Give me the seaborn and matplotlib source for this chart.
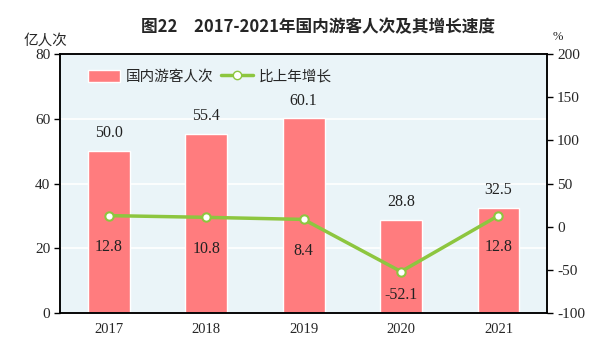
"""
2017-2021年国内游客人次及其增长速度
"""
import numpy as np
import pandas as pd
import matplotlib
matplotlib.use("Agg")
import matplotlib.pyplot as plt
import seaborn as sns
from matplotlib.lines import Line2D
from matplotlib.patches import Patch

sns.set_theme(style="white")
plt.rcParams["font.family"] = ["Noto Sans CJK SC", "DejaVu Sans"]
plt.rcParams["axes.unicode_minus"] = False

# 数据
years = ["2017", "2018", "2019", "2020", "2021"]
visitors = [50.0, 55.4, 60.1, 28.8, 32.5]      # 亿人次
growth = [12.8, 10.8, 8.4, -52.1, 12.8]         # %

BAR_COLOR = "#FF7C7E"
LINE_COLOR = "#8DC63F"
BG_COLOR = "#EAF4F8"
NUM_FONT = ["Liberation Serif", "DejaVu Serif"]

df = pd.DataFrame({"year": years, "visitors": visitors, "growth": growth})

fig = plt.figure(figsize=(6, 3.56), dpi=100)
ax = fig.add_axes([0.1, 0.121, 0.812, 0.727])
ax.set_facecolor(BG_COLOR)

sns.barplot(data=df, x="year", y="visitors", color=BAR_COLOR, saturation=1,
            width=0.43, ax=ax, zorder=2)
ax.set_ylim(0, 80)
ax.set_yticks([0, 20, 40, 60, 80])
ax.set_xlim(-0.5, 4.5)
ax.grid(axis="y", color="white", linewidth=1.2, zorder=0)
ax.set_axisbelow(True)
ax.set_xlabel("")
ax.set_ylabel("")

# 柱顶标签
for i, v in enumerate(visitors):
    ax.annotate(f"{v:.1f}", (i, v), xytext=(0, 7), textcoords="offset points",
                ha="center", va="bottom", fontsize=11.5, family=NUM_FONT, color="#222222")

ax2 = ax.twinx()
sns.lineplot(data=df, x="year", y="growth", sort=False, color=LINE_COLOR,
             linewidth=2.5, marker="o", markersize=6, markerfacecolor="white",
             markeredgecolor=LINE_COLOR, markeredgewidth=1.5, ax=ax2, zorder=3)
ax2.set_ylim(-100, 200)
ax2.set_yticks(np.arange(-100, 201, 50))
ax2.set_xlim(-0.5, 4.5)
ax2.set_ylabel("")
ax2.set_xlabel("")

# 增长率标签
for i, g in enumerate(growth):
    off = -11 if g < 0 else -17
    ax2.annotate(f"{g:.1f}", (i, g), xytext=(0, off), textcoords="offset points",
                 ha="center", va="top", fontsize=11.5, family=NUM_FONT, color="#222222")

# 刻度
ax.set_xticks(range(len(years)))
ax.set_xticklabels(years, family=NUM_FONT, fontsize=10.5)
ax.set_xticks(np.arange(0.5, 4.5, 1), minor=True)
ax.tick_params(axis="x", which="major", length=0, pad=7)
ax.tick_params(axis="x", which="minor", direction="in", length=5, width=1, color="black")
ax.tick_params(axis="y", direction="out", length=4, width=1, color="black", left=True, pad=3)
ax2.tick_params(axis="y", direction="out", length=4, width=1, color="black", right=True, pad=3)
for lab in ax.get_yticklabels() + ax2.get_yticklabels():
    lab.set_family(NUM_FONT)
    lab.set_fontsize(11)

for a in (ax, ax2):
    for s in a.spines.values():
        s.set_color("black")
        s.set_linewidth(1.1)

# 图例
handles = [
    Patch(facecolor=BAR_COLOR, label="国内游客人次"),
    Line2D([0], [0], color=LINE_COLOR, linewidth=2.5, marker="o", markersize=6,
           markerfacecolor="white", markeredgecolor=LINE_COLOR, label="比上年增长"),
]
ax2.legend(handles=handles, loc="upper left", bbox_to_anchor=(0.03, 0.99), ncol=2,
           frameon=False, fontsize=10.5, handlelength=2.2, handleheight=0.9,
           columnspacing=0.5, handletextpad=0.4)

fig.text(0.53, 0.925, "图22　2017-2021年国内游客人次及其增长速度", ha="center",
         va="center", fontsize=12, fontweight="bold")
fig.text(0.075, 0.885, "亿人次", ha="center", va="center", fontsize=10.5)
fig.text(0.93, 0.895, "%", ha="center", va="center", fontsize=9, family=NUM_FONT)

fig.savefig("out.png", dpi=100)
plt.close(fig)
